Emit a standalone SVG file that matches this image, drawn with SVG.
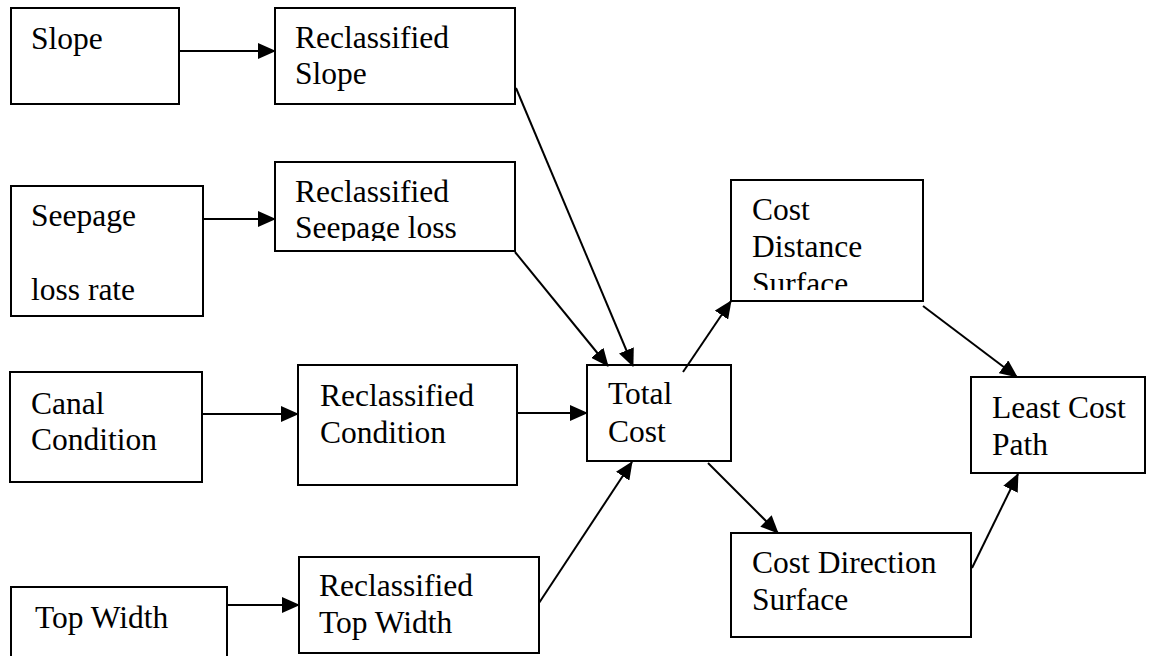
<svg xmlns="http://www.w3.org/2000/svg" width="1154" height="656" viewBox="0 0 1154 656">
<defs>
<style>
.box{fill:#fff;stroke:#000;stroke-width:2}
.c{stroke:#000;stroke-width:2;fill:none}
</style>
<marker id="ah" markerUnits="userSpaceOnUse" markerWidth="18" markerHeight="16" viewBox="0 0 18 16" refX="17" refY="8" orient="auto">
<path d="M0,0 L18,8 L0,16 z" fill="#000"/>
</marker>
<clipPath id="clipRSL"><rect x="276" y="163" width="238" height="78"/></clipPath>
<clipPath id="clipCDS"><rect x="732" y="181" width="190" height="109"/></clipPath>
</defs>
<rect width="1154" height="656" fill="#fff"/>
<g font-family="Liberation Serif, Times New Roman, serif" font-size="31.5" fill="#000">
<g id="slope"><rect class="box" x="11" y="8" width="168" height="96"/><text x="31" y="49">Slope</text></g>
<g id="reclass-slope"><rect class="box" x="275" y="8" width="240" height="96"/><text x="295" y="48">Reclassified</text><text x="295" y="84">Slope</text></g>
<g id="seepage"><rect class="box" x="11" y="186" width="192" height="130"/><text x="31" y="226">Seepage</text><text x="31" y="300">loss rate</text></g>
<g id="reclass-seepage"><rect class="box" x="275" y="162" width="240" height="89"/><g clip-path="url(#clipRSL)"><text x="295" y="202">Reclassified</text><text x="295" y="238">Seepage loss</text></g></g>
<g id="canal"><rect class="box" x="10" y="372" width="192" height="110"/><text x="31" y="414">Canal</text><text x="31" y="450">Condition</text></g>
<g id="reclass-condition"><rect class="box" x="298" y="365" width="219" height="120"/><text x="320" y="406">Reclassified</text><text x="320" y="443">Condition</text></g>
<g id="total"><rect class="box" x="587" y="365" width="144" height="96"/><text x="608" y="404">Total</text><text x="608" y="442">Cost</text></g>
<g id="topwidth"><rect class="box" x="11" y="587" width="216" height="80"/><text x="35" y="628">Top Width</text></g>
<g id="reclass-topwidth"><rect class="box" x="299" y="557" width="240" height="96"/><text x="319" y="596">Reclassified</text><text x="319" y="633">Top Width</text></g>
<g id="cost-distance"><rect class="box" x="731" y="180" width="192" height="121"/><g clip-path="url(#clipCDS)"><text x="752" y="220">Cost</text><text x="752" y="257">Distance</text><text x="752" y="294">Surface</text></g></g>
<g id="least-cost"><rect class="box" x="971" y="377" width="174" height="96"/><text x="992" y="418">Least Cost</text><text x="992" y="455">Path</text></g>
<g id="cost-direction"><rect class="box" x="731" y="533" width="240" height="104"/><text x="752" y="573">Cost Direction</text><text x="752" y="610">Surface</text></g>
</g>
<g id="connectors">
<line class="c" x1="179" y1="51" x2="275" y2="51" marker-end="url(#ah)"/>
<line class="c" x1="203" y1="219" x2="275" y2="219" marker-end="url(#ah)"/>
<line class="c" x1="202" y1="414" x2="298" y2="414" marker-end="url(#ah)"/>
<line class="c" x1="517" y1="413" x2="587" y2="413" marker-end="url(#ah)"/>
<line class="c" x1="227" y1="605" x2="299" y2="605" marker-end="url(#ah)"/>
<line class="c" x1="516" y1="88" x2="633" y2="366" marker-end="url(#ah)"/>
<line class="c" x1="515" y1="252" x2="608" y2="366" marker-end="url(#ah)"/>
<line class="c" x1="539" y1="603" x2="632" y2="462" marker-end="url(#ah)"/>
<line class="c" x1="683" y1="372" x2="731" y2="301" marker-end="url(#ah)"/>
<line class="c" x1="923" y1="306" x2="1017" y2="377" marker-end="url(#ah)"/>
<line class="c" x1="708" y1="463" x2="778" y2="533" marker-end="url(#ah)"/>
<line class="c" x1="972" y1="568" x2="1018" y2="474" marker-end="url(#ah)"/>
</g>
</svg>
